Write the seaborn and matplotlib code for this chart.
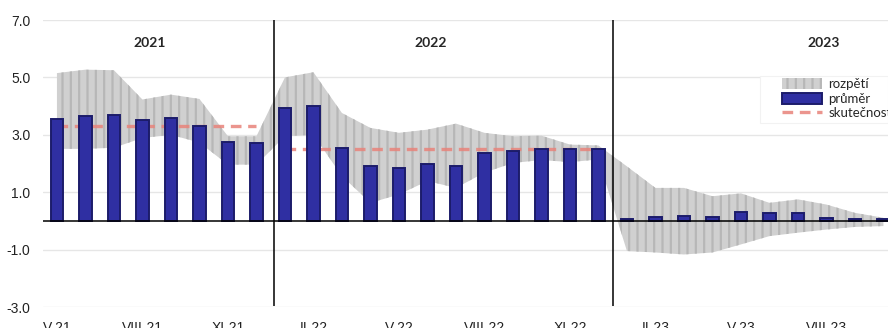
import numpy as np
import pandas as pd
import matplotlib
matplotlib.use("Agg")
import matplotlib.pyplot as plt
from matplotlib.patches import Rectangle
import seaborn as sns

# Monthly forecasts, May 2021 - October 2023
months = ["V-21", "VI-21", "VII-21", "VIII-21", "IX-21", "X-21", "XI-21", "XII-21",
          "I-22", "II-22", "III-22", "IV-22", "V-22", "VI-22", "VII-22", "VIII-22",
          "IX-22", "X-22", "XI-22", "XII-22",
          "I-23", "II-23", "III-23", "IV-23", "V-23", "VI-23", "VII-23", "VIII-23",
          "IX-23", "X-23"]
prumer = [3.55, 3.65, 3.70, 3.50, 3.59, 3.32, 2.74, 2.70,
          3.94, 4.02, 2.55, 1.91, 1.85, 1.99, 1.93, 2.37,
          2.43, 2.49, 2.49, 2.49,
          0.05, 0.15, 0.17, 0.15, 0.32, 0.26, 0.28, 0.10, 0.08, 0.05]
rozpeti_max = [5.15, 5.27, 5.25, 4.23, 4.40, 4.25, 2.95, 2.95,
               5.00, 5.18, 3.76, 3.24, 3.07, 3.18, 3.39, 3.07,
               2.95, 2.97, 2.66, 2.63,
               1.90, 1.15, 1.15, 0.86, 0.96, 0.63, 0.75, 0.57, 0.28, 0.11]
rozpeti_min = [2.51, 2.51, 2.55, 2.89, 3.00, 2.73, 1.96, 1.96,
               2.95, 3.00, 1.56, 0.63, 0.92, 1.39, 1.15, 1.68,
               2.02, 2.12, 2.05, 2.14,
               -1.05, -1.10, -1.17, -1.10, -0.82, -0.53, -0.41, -0.30, -0.21, -0.18]
# Actual yearly values
skutecnost_2021 = 3.3
skutecnost_2022 = 2.5
years = ["2021", "2022", "2023"]
year_label_pos = [3.25, 13.1, 26.9]
year_breaks = [7.6, 19.5]
ytick_values = [7.0, 5.0, 3.0, 1.0, -1.0, -3.0]
xtick_every = 3

df = pd.DataFrame({"mesic": months, "prumer": prumer})
x = np.arange(len(months))

sns.set_theme(style="white")
plt.rcParams["font.family"] = ["Liberation Sans", "DejaVu Sans"]
plt.rcParams["hatch.linewidth"] = 1.6

fig = plt.figure(figsize=(8.88, 3.28), dpi=100)
ax = fig.add_axes([0.0484, 0.064, 0.9516, 0.875])

# range band with vertical striped texture
ax.fill_between(x, rozpeti_min, rozpeti_max, facecolor="#d0d0d0",
                edgecolor="#b7b7b7", hatch="||", linewidth=0, zorder=1,
                label="rozpětí")

# mean forecast bars
sns.barplot(data=df, x="mesic", y="prumer", order=months, ax=ax,
            color="#2f2fa2", width=0.44, saturation=1, zorder=3,
            edgecolor="#1c1c6a", linewidth=1.4, label="průměr")

# actual values per year
ax.plot([0, 7], [skutecnost_2021] * 2, ls=(0, (3.2, 2)), lw=2.4,
        color="#e8837a", alpha=0.85, zorder=2, label="skutečnost")
ax.plot([8, 19], [skutecnost_2022] * 2, ls=(0, (3.2, 2)), lw=2.4,
        color="#e8837a", alpha=0.85, zorder=2)

ax.axhline(0, color="black", lw=1.1, zorder=4)
for b in year_breaks:
    ax.vlines(b, -2.95, 7.0, color="black", lw=1.1, zorder=4)

for yr, px in zip(years, year_label_pos):
    ax.text(px, 6.2, yr, ha="center", va="center", fontsize=10,
            fontweight="bold", family=["Lato", "DejaVu Sans"], zorder=5)

ax.set_ylim(-3.0, 7.0)
ax.set_xlim(-0.49, 29.16)
ax.set_yticks(ytick_values)
ax.set_yticklabels([f"{v:.1f}" for v in ytick_values])
ax.set_xticks(x[::xtick_every])
ax.set_xticklabels(months[::xtick_every])
ax.tick_params(axis="both", labelsize=10, colors="#222222", length=0)
ax.tick_params(axis="x", pad=10)
ax.tick_params(axis="y", pad=9)
ax.yaxis.grid(True, color="#e6e6e6", lw=1, zorder=0)
ax.set_axisbelow(True)
ax.set_xlabel("")
ax.set_ylabel("")
for s in ax.spines.values():
    s.set_visible(False)

# white panel behind the legend
ax.add_patch(Rectangle((760 / 888, 1 - 123 / 328), 128 / 888, 47 / 328,
                       transform=fig.transFigure, facecolor="white",
                       edgecolor="#f2f2f2", lw=0.8, zorder=4.5))

handles, labels = ax.get_legend_handles_labels()
order = [labels.index(n) for n in ["rozpětí", "průměr", "skutečnost"]]
leg = ax.legend([handles[i] for i in order], [labels[i] for i in order],
                loc="upper left", bbox_to_anchor=(778 / 888, 1 - 74 / 328),
                bbox_transform=fig.transFigure, frameon=False,
                prop={"family": ["Lato", "DejaVu Sans"], "size": 9.5},
                handlelength=3.0, handleheight=0.9, labelspacing=0.2,
                borderpad=0.3, handletextpad=0.5, borderaxespad=0)

fig.savefig("out.png", dpi=100)
